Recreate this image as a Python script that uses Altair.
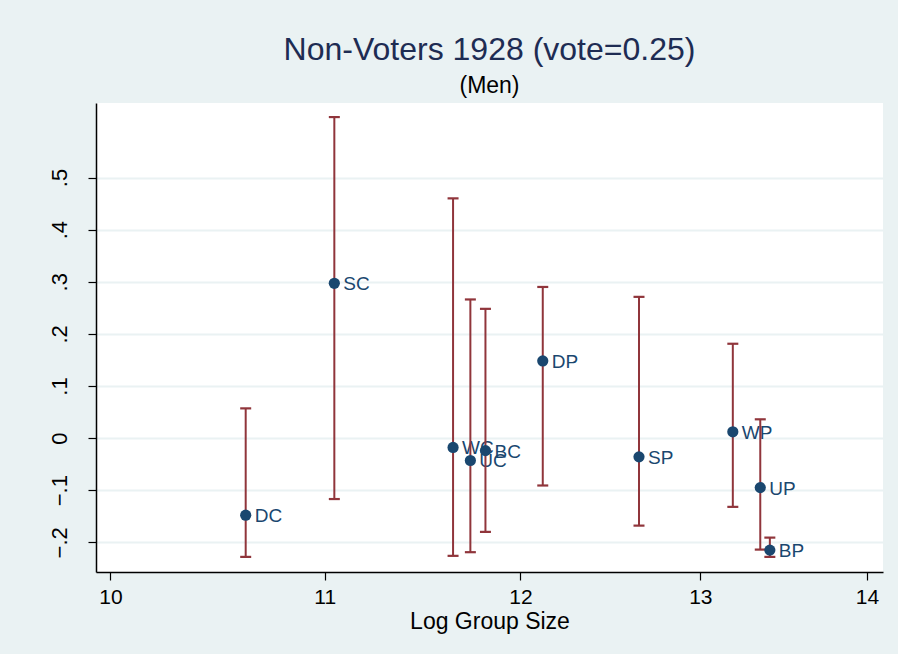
import altair as alt
import pandas as pd

groups = ["DC", "SC", "WC", "UC", "BC", "DP", "SP", "WP", "UP", "BP"]
log_size = [10.620, 11.047, 11.646, 11.736, 11.815, 12.120, 12.650, 13.189, 13.351, 13.408]
estimate = [-0.148, 0.297, -0.018, -0.043, -0.024, 0.148, -0.036, 0.012, -0.095, -0.215]
upper = [0.057, 0.616, 0.460, 0.266, 0.248, 0.290, 0.271, 0.181, 0.036, -0.191]
lower = [-0.228, -0.117, -0.226, -0.219, -0.180, -0.091, -0.168, -0.132, -0.214, -0.228]

x_ticks = [10, 11, 12, 13, 14]
y_ticks = [-0.2, -0.1, 0, 0.1, 0.2, 0.3, 0.4, 0.5]

df = pd.DataFrame({"group": groups, "x": log_size, "est": estimate, "hi": upper, "lo": lower})

FONT = "Liberation Sans"
NAVY = "#1a476f"
MAROON = "#90353b"

xscale = alt.Scale(type="log", domain=[9.936, 14.10], nice=False)
yscale = alt.Scale(domain=[-0.257, 0.643], nice=False, zero=False)

xaxis = alt.Axis(values=x_ticks, format="d", title="Log Group Size", grid=False,
                 labelFontSize=21, titleFontSize=23, labelPadding=6, titlePadding=3,
                 tickSize=8, tickColor="black", domainColor="black", domainWidth=1.5,
                 tickWidth=1.2, labelColor="black", titleColor="black",
                 titleFontWeight="normal", labelFont=FONT, titleFont=FONT, labelFlush=False)
yaxis = alt.Axis(values=y_ticks, title=None, grid=True, gridColor="#eaf2f3", gridWidth=1.8,
                 labelExpr="datum.value == 0 ? '0' : replace(format(datum.value, '.1f'), '0.', '.')",
                 labelAngle=270, labelAlign="center", labelBaseline="bottom",
                 labelFontSize=22, labelPadding=17, tickSize=8, tickColor="black",
                 domainColor="black", domainWidth=1.5, tickWidth=1.2, labelColor="black",
                 labelFont=FONT, labelFlush=False)

base = alt.Chart(df)

labels = base.mark_text(align="left", baseline="middle", dx=9, dy=1, fontSize=19,
                        color=NAVY, font=FONT).encode(
    x=alt.X("x:Q", scale=xscale, axis=xaxis),
    y=alt.Y("est:Q", scale=yscale, axis=yaxis),
    text="group:N",
)

rules = base.mark_rule(color=MAROON, strokeWidth=2).encode(
    x=alt.X("x:Q", scale=xscale, axis=xaxis),
    y=alt.Y("lo:Q", scale=yscale, axis=yaxis),
    y2="hi:Q",
)

caps = base.transform_fold(["lo", "hi"], as_=["end", "val"]).mark_tick(
    color=MAROON, orient="horizontal", size=11, thickness=2.2, opacity=1).encode(
    x=alt.X("x:Q", scale=xscale, axis=xaxis),
    y=alt.Y("val:Q", scale=yscale, axis=yaxis),
)

points = base.mark_circle(color=NAVY, size=125, opacity=1).encode(
    x=alt.X("x:Q", scale=xscale, axis=xaxis),
    y=alt.Y("est:Q", scale=yscale, axis=yaxis),
)

chart = alt.layer(labels, rules, caps, points).properties(
    width=787,
    height=469,
    autosize=alt.AutoSizeParams(type="none"),
    padding={"left": 96, "top": 103, "right": 15, "bottom": 82},
    background="#eaf2f3",
    title=alt.TitleParams(
        text="Non-Voters 1928 (vote=0.25)",
        subtitle="(Men)",
        anchor="middle",
        frame="group",
        font=FONT,
        fontSize=32,
        fontWeight="normal",
        color="#1e2c53",
        subtitleFont=FONT,
        subtitleFontSize=23,
        subtitleColor="black",
        subtitlePadding=8,
        offset=4,
    ),
).configure_view(fill="white", stroke=None)

chart.save("out.html", embed_options={"renderer": "svg", "actions": False})
